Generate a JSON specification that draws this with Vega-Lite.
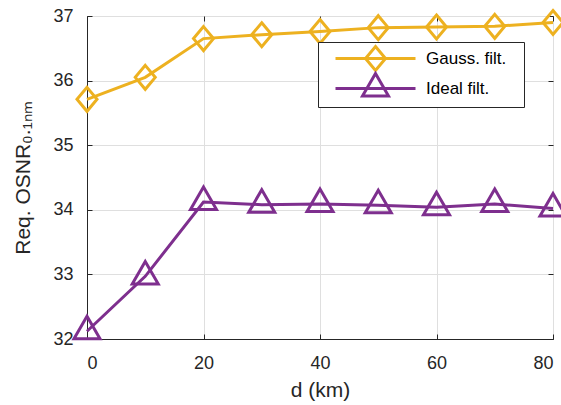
{
  "$schema": "https://vega.github.io/schema/vega-lite/v6.json",
  "width": 466,
  "height": 323,
  "autosize": {"type": "none"},
  "padding": {"left": 87, "top": 16, "right": 8, "bottom": 66},
  "background": "white",
  "config": {
    "font": "Liberation Sans",
    "view": {"stroke": "#262626", "strokeWidth": 1},
    "axis": {
      "labelFont": "Liberation Sans",
      "titleFont": "Liberation Sans",
      "labelFontSize": 18,
      "titleFontSize": 21,
      "titleFontWeight": "normal",
      "labelColor": "#262626",
      "titleColor": "#262626",
      "domainColor": "#262626",
      "tickColor": "#262626",
      "gridColor": "#dfdfdf",
      "gridWidth": 1
    }
  },
  "data": {
    "values": [
      {"d": 0, "v": 35.71, "series": "Gauss. filt."},
      {"d": 10, "v": 36.05, "series": "Gauss. filt."},
      {"d": 20, "v": 36.65, "series": "Gauss. filt."},
      {"d": 30, "v": 36.71, "series": "Gauss. filt."},
      {"d": 40, "v": 36.76, "series": "Gauss. filt."},
      {"d": 50, "v": 36.82, "series": "Gauss. filt."},
      {"d": 60, "v": 36.83, "series": "Gauss. filt."},
      {"d": 70, "v": 36.84, "series": "Gauss. filt."},
      {"d": 80, "v": 36.9, "series": "Gauss. filt."},
      {"d": 0, "v": 32.12, "series": "Ideal filt."},
      {"d": 10, "v": 32.97, "series": "Ideal filt."},
      {"d": 20, "v": 34.12, "series": "Ideal filt."},
      {"d": 30, "v": 34.08, "series": "Ideal filt."},
      {"d": 40, "v": 34.09, "series": "Ideal filt."},
      {"d": 50, "v": 34.07, "series": "Ideal filt."},
      {"d": 60, "v": 34.04, "series": "Ideal filt."},
      {"d": 70, "v": 34.09, "series": "Ideal filt."},
      {"d": 80, "v": 34.02, "series": "Ideal filt."}
    ]
  },
  "resolve": {"axis": {"x": "independent", "y": "independent"}},
  "encoding": {
    "color": {
      "field": "series", "type": "nominal",
      "scale": {"domain": ["Gauss. filt.", "Ideal filt."], "range": ["#EDB120", "#7E2F8E"]},
      "legend": {
        "title": null,
        "orient": "none",
        "legendX": 231,
        "legendY": 26,
        "strokeColor": "#262626",
        "fillColor": "white",
        "padding": 5,
        "symbolOffset": 3,
        "labelFontSize": 17,
        "labelColor": "black",
        "labelFont": "Liberation Sans",
        "labelExpr": "datum.label + '\u2800'",
        "symbolSize": 400,
        "symbolStrokeWidth": 3,
        "symbolFillColor": "transparent",
        "rowPadding": -19,
        "labelOffset": 77,
        "encode": {
          "symbols": {
            "update": {
              "shape": {"signal": "datum.value === 'Gauss. filt.' ? 'M-0.2,0L7.8,0M3.8,-1.2L4.8,0L3.8,1.2L2.8,0Z' : 'M-0.2,0L7.8,0M3.8,-1.5L5.1,0.75L2.5,0.75Z'"},
              "fill": {"value": "transparent"},
              "strokeWidth": {"value": 3}
            }
          }
        }
      }
    }
  },
  "layer": [
    {
      "mark": {"type": "line", "strokeWidth": 3},
      "encoding": {
        "x": {
          "field": "d", "type": "quantitative",
          "scale": {"domain": [0, 80], "nice": false, "zero": false},
          "axis": {"title": "d (km)", "values": [0, 20, 40, 60, 80], "tickSize": -5, "labelPadding": 20, "titlePadding": 7, "format": "d"}
        },
        "y": {
          "field": "v", "type": "quantitative",
          "scale": {"domain": [32, 37], "nice": false, "zero": false},
          "axis": {"title": "Req. OSNR₀.₁ₙₘ", "values": [32, 33, 34, 35, 36, 37], "tickSize": -5, "labelPadding": 19, "titlePadding": 19, "format": "d"}
        }
      }
    },
    {
      "transform": [{"filter": "datum.series === 'Gauss. filt.'"}],
      "mark": {"type": "point", "filled": false, "strokeWidth": 3, "size": 676, "opacity": 1, "shape": "M0,-0.92L0.77,0L0,0.92L-0.77,0Z"},
      "encoding": {
        "x": {
          "field": "d", "type": "quantitative",
          "axis": {"orient": "top", "title": null, "labels": false, "grid": false, "domain": false, "values": [0, 20, 40, 60, 80], "tickSize": -5}
        },
        "y": {
          "field": "v", "type": "quantitative",
          "axis": {"orient": "right", "title": null, "labels": false, "grid": false, "domain": false, "values": [32, 33, 34, 35, 36, 37], "tickSize": -5}
        }
      }
    },
    {
      "transform": [{"filter": "datum.series === 'Ideal filt.'"}],
      "mark": {"type": "point", "filled": false, "strokeWidth": 3, "size": 676, "opacity": 1, "shape": "M0,-1.15L1,0.58L-1,0.58Z"},
      "encoding": {
        "x": {"field": "d", "type": "quantitative", "axis": null},
        "y": {"field": "v", "type": "quantitative", "axis": null}
      }
    }
  ]
}
